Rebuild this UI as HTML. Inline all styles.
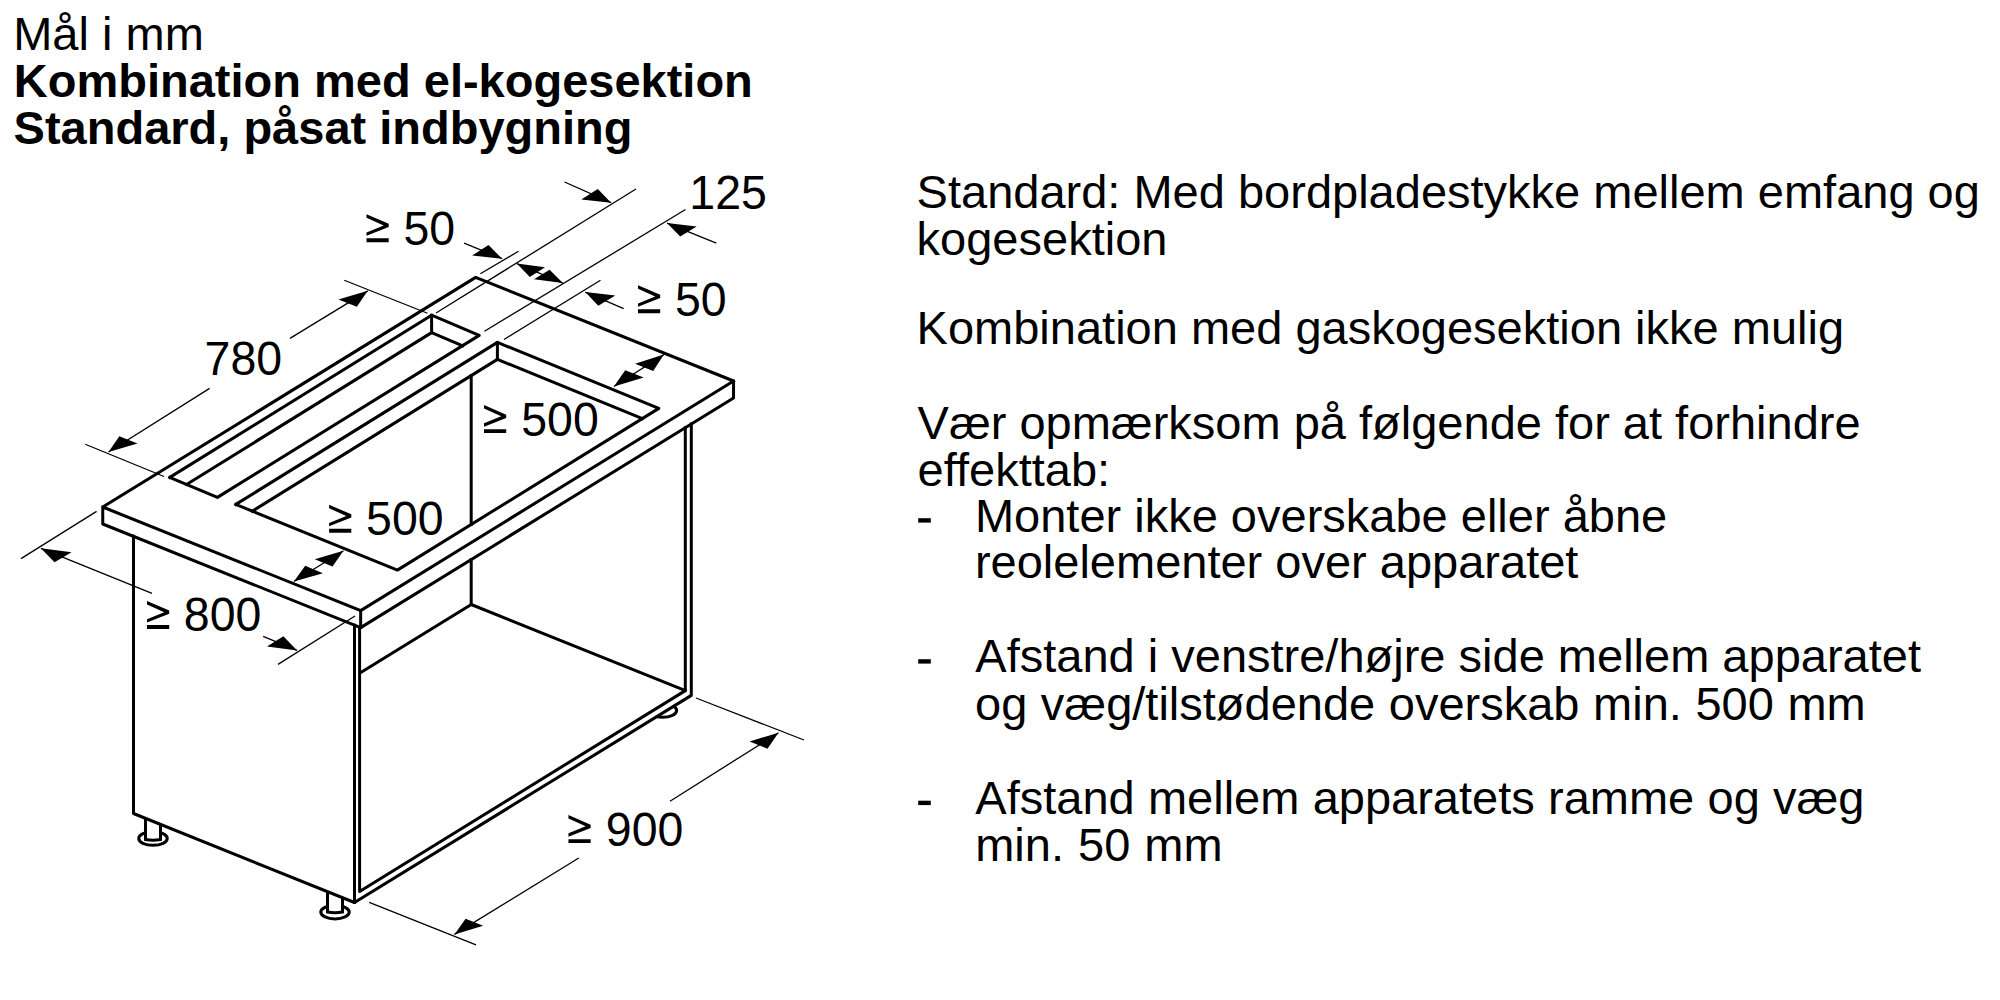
<!DOCTYPE html><html><head><meta charset="utf-8"><style>html,body{margin:0;padding:0;background:#fff;width:2000px;height:1000px;overflow:hidden}svg{display:block}text{font-family:"Liberation Sans",sans-serif;fill:#000}</style></head><body>
<svg width="2000" height="1000" viewBox="0 0 2000 1000">
<rect width="2000" height="1000" fill="#fff"/>
<ellipse cx="153" cy="838.5" rx="14.25" ry="6.8" fill="#fff" stroke="#000" stroke-width="3"/>
<path d="M145.5,779.5 L145.5,839.5 Q153.0,841.0 160.5,839.5 L160.5,779.5" fill="#fff" stroke="#000" stroke-width="3"/>
<ellipse cx="335" cy="912.1" rx="14.25" ry="6.8" fill="#fff" stroke="#000" stroke-width="3"/>
<path d="M327.5,852.0 L327.5,912.0 Q335.0,913.5 342.5,912.0 L342.5,852.0" fill="#fff" stroke="#000" stroke-width="3"/>
<ellipse cx="662.4" cy="710.5" rx="14.25" ry="6.8" fill="#fff" stroke="#000" stroke-width="3"/>
<polygon points="133.50,536.35 133.50,813.50 354.50,902.50 691.30,695.40 691.30,424.01 360.65,627.60 102.75,524.00" fill="#fff" stroke="none"/>
<g fill="none" stroke="#000" stroke-width="3" stroke-linejoin="round" stroke-linecap="square">
<polyline points="360.65,610.60 102.75,507.00 475.65,277.40 733.55,381.00 733.55,398.00 360.65,627.60 102.75,524.00 102.75,507.00"/>
<polyline points="360.65,610.60 733.55,381.00"/>
<polyline points="360.65,610.60 360.65,627.60"/>
<polyline points="169.80,477.40 431.60,315.20 479.20,335.40 217.40,497.40 169.80,477.40"/>
<polyline points="431.60,315.20 431.60,332.60"/>
<polyline points="186.54,484.43 431.60,332.60 462.52,345.72"/>
<polyline points="235.80,504.40 497.40,342.40 658.80,408.40 397.40,570.10 235.80,504.40"/>
<polyline points="497.40,342.40 497.40,359.40"/>
<polyline points="252.37,511.14 497.40,359.40 642.26,418.63"/>
<polyline points="133.50,536.35 133.50,813.50 354.50,902.50 691.30,695.40 691.30,424.01"/>
<polyline points="354.50,625.13 354.50,902.50"/>
<polyline points="359.60,628.25 359.60,891.50 685.30,690.60 685.30,427.71"/>
<polyline points="471.20,559.53 471.20,604.50 685.30,690.60"/>
<polyline points="360.80,672.47 471.20,604.50"/>
<polyline points="471.20,375.62 471.20,524.45"/>
</g>
<g fill="none" stroke="#000" stroke-width="1.3" stroke-linecap="butt">
<polyline points="344.25,280.25 427.50,313.25"/>
<polyline points="85.25,444.25 164.00,476.50"/>
<polyline points="480.36,273.70 518.50,251.30"/>
<polyline points="436.00,313.00 636.00,189.00"/>
<polyline points="484.50,331.25 685.50,209.50"/>
<polyline points="504.00,339.50 600.50,280.25"/>
<polyline points="21.00,558.60 96.60,511.40"/>
<polyline points="278.00,664.40 355.00,616.00"/>
<polyline points="696.00,698.00 804.00,740.00"/>
<polyline points="369.20,902.30 476.00,944.80"/>
<polyline points="108.50,452.00 209.60,388.40"/>
<polyline points="290.00,338.40 367.80,290.85"/>
<polyline points="40.90,548.30 152.00,593.40"/>
<polyline points="263.10,636.30 297.10,650.45"/>
<polyline points="454.40,934.40 578.80,858.00"/>
<polyline points="670.00,801.20 778.50,732.80"/>
<polyline points="564.50,182.00 611.10,202.70"/>
<polyline points="716.30,243.20 667.00,223.10"/>
<polyline points="464.10,243.10 502.10,258.70"/>
<polyline points="516.80,263.60 562.90,283.10"/>
<polyline points="623.70,308.70 585.20,292.10"/>
<polyline points="663.90,354.60 613.90,386.55"/>
<polyline points="343.45,550.70 293.90,581.55"/>
</g>
<g fill="#000" stroke="none">
<polygon points="367.80,290.85 338.40,299.40 356.80,306.80"/>
<polygon points="108.50,452.00 119.30,436.20 137.50,443.55"/>
<polygon points="611.10,202.70 581.30,199.40 597.80,189.00"/>
<polygon points="667.00,223.10 696.70,226.50 680.20,236.60"/>
<polygon points="502.10,258.70 472.20,255.50 488.50,245.10"/>
<polygon points="516.80,263.60 545.00,267.20 529.80,276.90"/>
<polygon points="562.90,283.10 534.00,279.20 549.60,269.80"/>
<polygon points="585.20,292.10 615.30,295.40 598.30,305.70"/>
<polygon points="663.90,354.60 635.10,363.65 653.20,371.00"/>
<polygon points="613.90,386.55 625.20,370.20 643.70,377.50"/>
<polygon points="343.45,550.70 314.70,559.30 332.50,566.40"/>
<polygon points="293.90,581.55 305.20,565.80 322.90,573.15"/>
<polygon points="40.90,548.30 71.55,552.30 54.50,562.30"/>
<polygon points="297.10,650.45 267.00,646.50 283.40,636.20"/>
<polygon points="778.50,732.80 749.50,741.40 767.50,748.80"/>
<polygon points="454.40,934.40 483.15,925.70 465.60,918.70"/>
</g>
<text transform="translate(204.55,375.35) scale(1,1.045)" font-size="46.5">780</text>
<text transform="translate(403.50,244.70) scale(1,1.045)" font-size="46.5">50</text>
<text transform="translate(689.30,209.30) scale(1,1.045)" font-size="46.5">125</text>
<text transform="translate(675.00,315.70) scale(1,1.045)" font-size="46.5">50</text>
<text transform="translate(521.20,435.65) scale(1,1.045)" font-size="46.5">500</text>
<text transform="translate(366.10,535.30) scale(1,1.045)" font-size="46.5">500</text>
<text transform="translate(183.80,631.30) scale(1,1.045)" font-size="46.5">800</text>
<text transform="translate(605.80,845.70) scale(1,1.045)" font-size="46.5">900</text>
<path transform="translate(366.5,214.25)" d="M0,0 L22.2,9.6 L22.2,12.8 L0,21.6 L0,18.2 L17.2,11.2 L0,3.4 Z M0,24.1 L22.2,24.1 L22.2,27.9 L0,27.9 Z" fill="#000"/>
<path transform="translate(638.0,285.25)" d="M0,0 L22.2,9.6 L22.2,12.8 L0,21.6 L0,18.2 L17.2,11.2 L0,3.4 Z M0,24.1 L22.2,24.1 L22.2,27.9 L0,27.9 Z" fill="#000"/>
<path transform="translate(484.0,405.1)" d="M0,0 L22.2,9.6 L22.2,12.8 L0,21.6 L0,18.2 L17.2,11.2 L0,3.4 Z M0,24.1 L22.2,24.1 L22.2,27.9 L0,27.9 Z" fill="#000"/>
<path transform="translate(329.1,504.75)" d="M0,0 L22.2,9.6 L22.2,12.8 L0,21.6 L0,18.2 L17.2,11.2 L0,3.4 Z M0,24.1 L22.2,24.1 L22.2,27.9 L0,27.9 Z" fill="#000"/>
<path transform="translate(147.0,601.0)" d="M0,0 L22.2,9.6 L22.2,12.8 L0,21.6 L0,18.2 L17.2,11.2 L0,3.4 Z M0,24.1 L22.2,24.1 L22.2,27.9 L0,27.9 Z" fill="#000"/>
<path transform="translate(568.45,815.1)" d="M0,0 L22.2,9.6 L22.2,12.8 L0,21.6 L0,18.2 L17.2,11.2 L0,3.4 Z M0,24.1 L22.2,24.1 L22.2,27.9 L0,27.9 Z" fill="#000"/>
<rect x="918.2" y="518.2" width="12.6" height="4.4" fill="#000"/>
<rect x="918.2" y="659.2" width="12.6" height="4.4" fill="#000"/>
<rect x="918.2" y="800.7" width="12.6" height="4.4" fill="#000"/>
<text x="916.6" y="208.3" font-size="47">Standard: Med bordpladestykke mellem emfang og</text>
<text x="916.6" y="255.0" font-size="47">kogesektion</text>
<text x="916.6" y="344.2" font-size="47">Kombination med gaskogesektion ikke mulig</text>
<text x="917.6" y="439.0" font-size="47">Vær opmærksom på følgende for at forhindre</text>
<text x="917.6" y="485.6" font-size="47">effekttab:</text>
<text x="974.9" y="531.8" font-size="47">Monter ikke overskabe eller åbne</text>
<text x="974.9" y="578.0" font-size="47">reolelementer over apparatet</text>
<text x="975.3" y="672.3" font-size="47">Afstand i venstre/højre side mellem apparatet</text>
<text x="975.0" y="719.9" font-size="47" word-spacing="0.5">og væg/tilstødende overskab min. 500 mm</text>
<text x="975.3" y="814.3" font-size="47" word-spacing="0.2">Afstand mellem apparatets ramme og væg</text>
<text x="975.2" y="860.5" font-size="47" word-spacing="1.0">min. 50 mm</text>
<text x="13.2" y="50.2" font-size="47" font-weight="400">Mål i mm</text>
<text x="13.8" y="97" font-size="47" font-weight="700">Kombination med el-kogesektion</text>
<text x="13.6" y="144.25" font-size="47" font-weight="700">Standard, påsat indbygning</text>
</svg></body></html>
